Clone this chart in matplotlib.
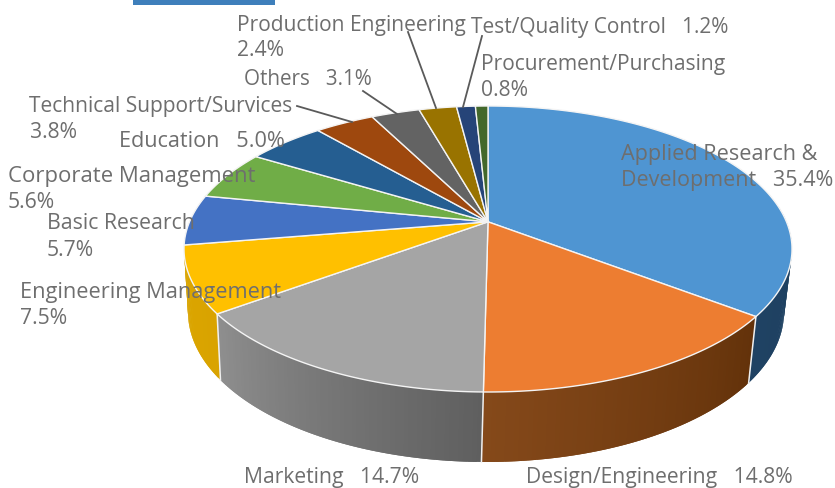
import numpy as np
import matplotlib
matplotlib.use("Agg")
import matplotlib.pyplot as plt
from matplotlib.colors import to_rgb
from matplotlib.patches import Rectangle

categories = ["Applied Research & Development", "Design/Engineering", "Marketing",
              "Engineering Management", "Basic Research", "Corporate Management",
              "Education", "Technical Support/Survices", "Others",
              "Production Engineering", "Test/Quality Control", "Procurement/Purchasing"]
shares = [35.4, 14.8, 14.7, 7.5, 5.7, 5.6, 5.0, 3.8, 3.1, 2.4, 1.2, 0.8]
top_colors = ["#4f95d2", "#ed7d31", "#a5a5a5", "#ffc000", "#4472c4", "#70ad47",
              "#255e91", "#9e480e", "#636363", "#997300", "#264478", "#43682b"]
wall_left = ["#1f4263", "#85491a", "#8f8f8f", "#dba600"]
wall_right = ["#1b3a58", "#63320a", "#5f5f5f", "#d9a300"]

# (text, left x, right x, baseline y); right x None keeps the base font size
label_lines = [
    ("Production Engineering", 237, 466, 31), ("2.4%", 237, None, 56),
    ("Test/Quality Control   1.2%", 471, 728, 33),
    ("Procurement/Purchasing", 481, 726, 70), ("0.8%", 481, None, 96),
    ("Others   3.1%", 244, 372, 85),
    ("Technical Support/Survices", 29, 293, 112), ("3.8%", 30, None, 138),
    ("Education   5.0%", 119, 285, 147),
    ("Corporate Management", 8, 255, 182), ("5.6%", 8, None, 208),
    ("Basic Research", 47, 194, 229), ("5.7%", 47, None, 256),
    ("Engineering Management", 20, 280, 298), ("7.5%", 20, None, 324),
    ("Applied Research &", 621, 817, 160), ("Development   35.4%", 621, 833, 186),
    ("Marketing   14.7%", 244, 419, 483),
    ("Design/Engineering   14.8%", 526, 793, 483),
]
leaders = [((408, 32), (436, 108)), ((482, 36), (463, 107)),
           ((363, 91), (397, 114)), ((297, 106), (352, 122))]

TOP_C, TOP_R = (488, 249), (304, 143)
BOT_C, BOT_R = (486, 312), (298, 150)
A = 0.19  # perspective shift of the pie's centre
BASE_SIZE = 15.2


def disc(theta):
    """Clockwise-from-top angle to position on the perspective-foreshortened disc."""
    x, y = np.sin(theta), np.cos(theta)
    d = 1 + A * y
    return x * np.sqrt(1 - A**2) / d, (y + A) / d


def top(u, v):
    return TOP_C[0] + TOP_R[0] * u, TOP_C[1] - TOP_R[1] * v


def bottom(u, v):
    return BOT_C[0] + BOT_R[0] * u, BOT_C[1] - BOT_R[1] * v


fig = plt.figure(figsize=(8.35, 4.88), dpi=100)
ax = fig.add_axes([0, 0, 1, 1])
ax.set_xlim(0, 835)
ax.set_ylim(488, 0)
ax.axis("off")

ax.add_patch(Rectangle((133, 0), 142, 5, fc="#3e7fbb", ec="none"))

edges = np.concatenate([[0], np.cumsum(shares)]) / sum(shares) * 2 * np.pi

# side wall: only the four front slices show one
for i in range(len(wall_left)):
    th = np.linspace(edges[i], edges[i + 1], max(3, int(shares[i] * 5)))
    u, v = disc(th)
    cl, cr = np.array(to_rgb(wall_left[i])), np.array(to_rgb(wall_right[i]))
    n = len(th) - 1
    # strips overlap their neighbour so no seams show
    for j in range(n):
        if v[j] > 0.3 and v[j + 1] > 0.3:
            continue
        t = (j + 0.5) / n
        c = cr * (1 - t) + cl * t
        k = min(j + 3, n + 1)
        xa, ya = top(u[j:k], v[j:k])
        xb, yb = bottom(u[j:k], v[j:k])
        ax.fill(np.r_[xa, xb[::-1]], np.r_[ya, yb[::-1]], fc=c, ec="none", zorder=2)
    if v[0] < 0.0:
        xa, ya = top(u[0], v[0])
        xb, yb = bottom(u[0], v[0])
        ax.plot([xa, xb], [ya, yb], color="#f0f0f0", lw=1.1, zorder=3)

# top face; the apex is the image of the disc's centre
apex = top(0.0, A)
for i in range(len(shares)):
    th = np.linspace(edges[i], edges[i + 1], max(4, int(shares[i] * 8)))
    x, y = top(*disc(th))
    ax.fill(np.r_[apex[0], x], np.r_[apex[1], y], fc=top_colors[i], ec="#f4f4f4",
            lw=1.0, joinstyle="round", zorder=4)

for (x0, y0), (x1, y1) in leaders:
    ax.plot([x0, x1], [y0, y1], color="#5a5a5a", lw=1.3, zorder=5)

renderer = fig.canvas.get_renderer()
for text, x0, x1, y in label_lines:
    t = ax.text(x0, y, text, family="Open Sans", fontsize=BASE_SIZE, color="#6e6e6e",
                ha="left", va="baseline", zorder=6)
    if x1 is not None:
        w = t.get_window_extent(renderer).width
        t.set_fontsize(BASE_SIZE * (x1 - x0) / w)

fig.savefig("out.png", dpi=100)
